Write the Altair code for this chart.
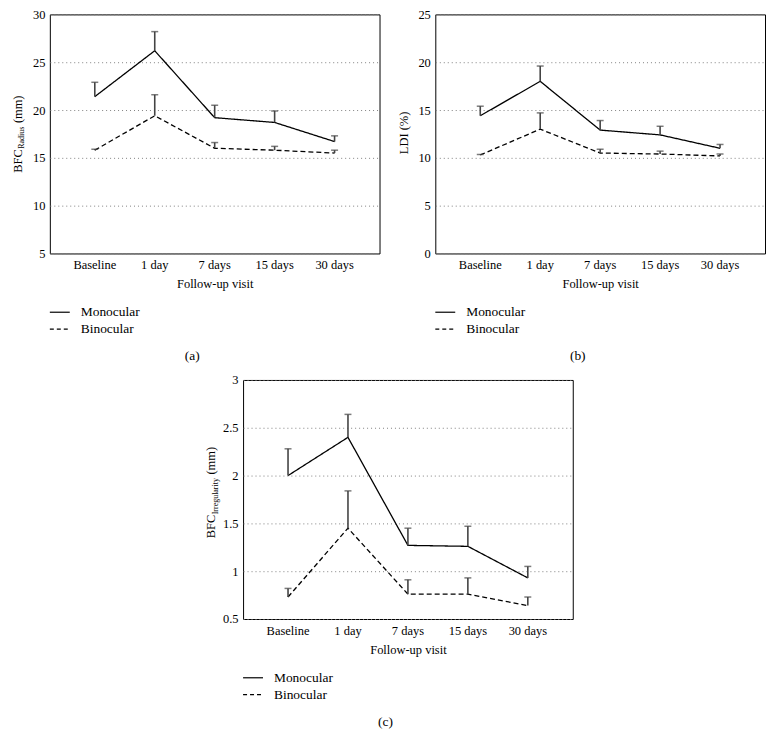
import altair as alt
import pandas as pd

# ---------------- data ----------------
visits = ["Baseline", "1 day", "7 days", "15 days", "30 days"]
groups = ["Monocular", "Binocular"]

radius_mono = [21.4, 26.2, 19.2, 18.7, 16.7]
radius_mono_upper = [22.9, 28.2, 20.5, 19.9, 17.3]
radius_bino = [15.8, 19.4, 16.0, 15.8, 15.5]
radius_bino_upper = [15.9, 21.6, 16.6, 16.2, 15.8]

ldi_mono = [14.4, 18.0, 12.9, 12.4, 11.0]
ldi_mono_upper = [15.4, 19.6, 13.9, 13.3, 11.4]
ldi_bino = [10.3, 13.0, 10.5, 10.4, 10.2]
ldi_bino_upper = [10.35, 14.7, 10.9, 10.7, 10.4]

irr_mono = [2.0, 2.4, 1.27, 1.26, 0.93]
irr_mono_upper = [2.28, 2.64, 1.45, 1.47, 1.05]
irr_bino = [0.73, 1.45, 0.76, 0.76, 0.64]
irr_bino_upper = [0.82, 1.84, 0.91, 0.93, 0.73]

radius_ticks = [5, 10, 15, 20, 25, 30]
ldi_ticks = [0, 5, 10, 15, 20, 25]
irr_ticks = [0.5, 1, 1.5, 2, 2.5, 3]

# ---------------- style ----------------
FONT = "Liberation Serif"
W, H = 331, 240
FS = 12.5
SUB = 8
LEG = 13.5
TIMES = {"B": .667, "F": .556, "C": .667, "R": .667, "a": .444, "d": .5,
         "i": .278, "u": .5, "s": .389, "I": .333, "r": .333, "e": .444,
         "g": .5, "l": .278, "t": .278, "y": .5}


def tw(s, size):
    return sum(TIMES.get(ch, 0.5) for ch in s) * size


def one(**kw):
    return alt.Chart(pd.DataFrame([kw if kw else {"k": 0}]))


def txt(**kw):
    return dict(font=FONT, color="black", **kw)


def panel(mono, mono_up, bino, bino_up, yticks, title, tag,
          left=-41, right=W, top=-7, bottom=None):
    df = pd.DataFrame({
        "visit": visits * 2,
        "idx": list(range(5)) * 2,
        "group": [groups[0]] * 5 + [groups[1]] * 5,
        "mean": mono + bino,
        "upper": mono_up + bino_up,
    })
    xax = alt.Axis(title="Follow-up visit", labelAngle=0, ticks=False, tickSize=0,
                   domain=False, labelPadding=5.5, titlePadding=6.5,
                   labelFont=FONT, titleFont=FONT)
    xs = alt.Scale(domain=visits, padding=0.5)
    x = alt.X("visit:N", sort=visits, scale=xs, axis=xax)
    ys = alt.Scale(domain=[yticks[0], yticks[-1]], nice=False, zero=False)
    yax = alt.Axis(title=None, values=yticks, format="~g", ticks=False, tickSize=0,
                   domain=False, grid=True, gridDash=[1, 3], gridColor="#808080",
                   gridWidth=1, labelPadding=5, labelFont=FONT)
    base = alt.Chart(df)
    line = base.mark_line(color="black", strokeWidth=1.3).encode(
        x=x,
        y=alt.Y("mean:Q", scale=ys, axis=yax),
        order="idx:Q",
        strokeDash=alt.StrokeDash("group:N", scale=alt.Scale(domain=groups, range=[[1, 0], [5, 3]]),
                                  legend=None),
    )
    err = base.mark_rule(color="#444", strokeWidth=1.6).encode(
        x=x, y=alt.Y("mean:Q", scale=ys, axis=yax), y2="upper:Q")
    cap = base.mark_tick(color="#444", thickness=1.5, size=7).encode(
        x=x, y=alt.Y("upper:Q", scale=ys, axis=yax))

    layers = [line, err, cap]

    # y-axis title
    xb = -28
    if len(title) == 3:
        y0 = 159
        layers.append(one(t=title[0]).mark_text(**txt(angle=270, align="left", baseline="alphabetic",
                                                      fontSize=FS)).encode(x=alt.value(xb), y=alt.value(y0), text="t:N"))
        y1 = y0 - tw(title[0], FS) - 0.5
        layers.append(one(t=title[1]).mark_text(**txt(angle=270, align="left", baseline="alphabetic",
                                                      fontSize=SUB)).encode(x=alt.value(xb + 2.5), y=alt.value(y1), text="t:N"))
        y2 = y1 - tw(title[1], SUB) - 3.5
        layers.append(one(t=title[2]).mark_text(**txt(angle=270, align="left", baseline="alphabetic",
                                                      fontSize=FS)).encode(x=alt.value(xb), y=alt.value(y2), text="t:N"))
    else:
        layers.append(one(t=title[0]).mark_text(**txt(angle=270, align="center", baseline="alphabetic",
                                                      fontSize=FS)).encode(x=alt.value(xb + 1), y=alt.value(119), text="t:N"))

    # legend
    l1, l2 = H + 59, H + 76
    layers.append(one().mark_rule(color="black", strokeWidth=1.2).encode(
        x=alt.value(0), x2=alt.value(20), y=alt.value(l1)))
    layers.append(one().mark_rule(color="black", strokeWidth=1.2, strokeDash=[4, 3]).encode(
        x=alt.value(0), x2=alt.value(20), y=alt.value(l2)))
    layers.append(one(t=groups[0]).mark_text(**txt(align="left", baseline="middle", fontSize=LEG)).encode(
        x=alt.value(31), y=alt.value(l1), text="t:N"))
    layers.append(one(t=groups[1]).mark_text(**txt(align="left", baseline="middle", fontSize=LEG)).encode(
        x=alt.value(31), y=alt.value(l2), text="t:N"))
    layers.append(one(t=tag).mark_text(**txt(align="center", baseline="middle", fontSize=LEG)).encode(
        x=alt.value(143), y=alt.value(H + 103), text="t:N"))

    # invisible layout anchors
    layers.append(one().mark_rule(opacity=0).encode(x=alt.value(left), x2=alt.value(right), y=alt.value(top)))
    if bottom is not None:
        layers.append(one().mark_rule(opacity=0).encode(x=alt.value(left), x2=alt.value(right), y=alt.value(bottom)))

    return alt.layer(*layers).properties(width=W, height=H)


a = panel(radius_mono, radius_mono_upper, radius_bino, radius_bino_upper, radius_ticks,
          ["BFC", "Radius", "(mm)"], "(a)", left=-41, right=335, top=-7, bottom=355)
b = panel(ldi_mono, ldi_mono_upper, ldi_bino, ldi_bino_upper, ldi_ticks,
          ["LDI (%)"], "(b)", left=-41, top=-7, bottom=355)
c = panel(irr_mono, irr_mono_upper, irr_bino, irr_bino_upper, irr_ticks,
          ["BFC", "Irregularity", "(mm)"], "(c)", left=-41, top=-10)

SPW = 141
spacer = alt.layer(
    one().mark_rule(opacity=0).encode(x=alt.value(-41), x2=alt.value(SPW), y=alt.value(0))
).properties(width=SPW, height=10, view=alt.ViewBackground(stroke="transparent"))

row1 = alt.hconcat(a, b, spacing=9)
row2 = alt.hconcat(spacer, c, spacing=10)
chart = (
    alt.vconcat(row1, row2, spacing=0)
    .properties(padding={"left": 0, "top": -3, "right": 0, "bottom": 0}, background="white")
    .configure_view(stroke="black", strokeWidth=1)
    .configure_axis(labelFont=FONT, titleFont=FONT, labelFontSize=FS, titleFontSize=FS,
                    titleFontWeight="normal", labelColor="black", titleColor="black")
    .configure_text(font=FONT, color="black")
)

chart.save("out.html", embed_options={"renderer": "svg", "actions": False})
